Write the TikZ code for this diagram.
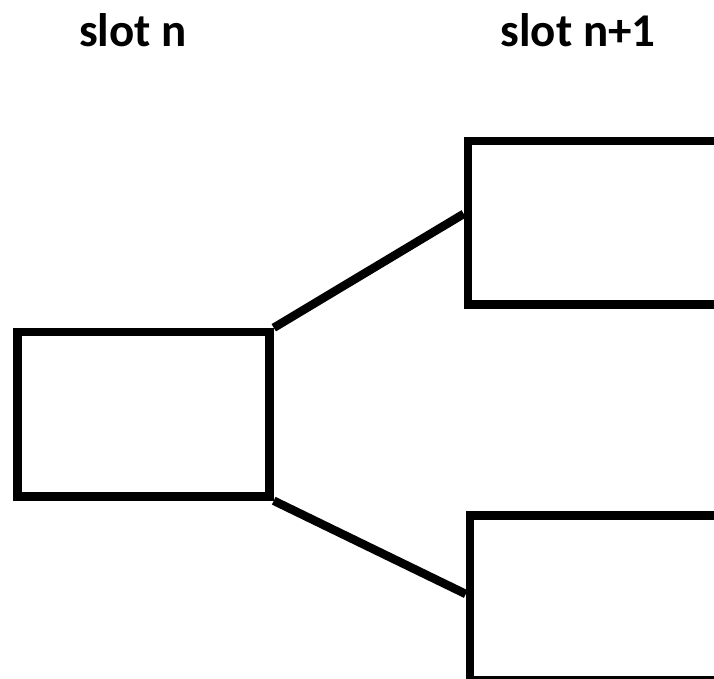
\documentclass[tikz,border=0pt]{standalone}
\usepackage{fontspec}
\setmainfont{Carlito}
\usepackage{tikz}

\tikzset{
  slotbox/.style={draw,line width=8.5pt,inner sep=0pt,rectangle},
  slotline/.style={line width=8.5pt},
  slotlabel/.style={font=\fontsize{47}{56}\selectfont\bfseries,anchor=base,inner sep=0pt}
}

\begin{document}
\begin{tikzpicture}[x=1pt,y=-1pt]
\useasboundingbox (0,0) rectangle (714,679);
\clip (0,0) rectangle (714,679);

\node (labeln) at (133,47)[slotlabel]{slot n};
\node (labelnext) at (578,47)[slotlabel]{slot n+1};

\node (cur) at (143.5,414.25)[slotbox,minimum width=252pt,minimum height=164.5pt]{};
\node (up) at (604,222.85)[slotbox,minimum width=272pt,minimum height=163.7pt]{};
\node (down) at (605,598)[slotbox,minimum width=270pt,minimum height=165.4pt]{};

\draw[slotline] (cur.north east) -- ([yshift=9pt]up.west);
\draw[slotline] (cur.south east) -- ([yshift=4pt]down.west);
\end{tikzpicture}
\end{document}
